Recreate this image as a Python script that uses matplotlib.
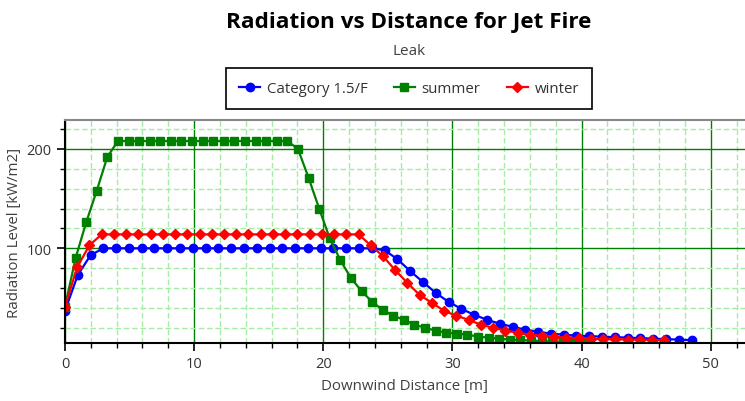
import matplotlib.pyplot as plt
from matplotlib.ticker import MultipleLocator, FixedLocator

# Category 1.5/F - blue circles
cat_x = [0.0, 0.99, 1.98, 2.97, 3.96, 4.95, 5.94, 6.93, 7.92, 8.91,
         9.9, 10.89, 11.88, 12.87, 13.86, 14.85, 15.84, 16.83, 17.82, 18.81,
         19.8, 20.79, 21.78, 22.77, 23.76, 24.75, 25.74, 26.73, 27.72, 28.71,
         29.7, 30.69, 31.68, 32.67, 33.66, 34.65, 35.64, 36.63, 37.62, 38.61,
         39.6, 40.59, 41.58, 42.57, 43.56, 44.55, 45.54, 46.53, 47.52, 48.51]
cat_y = [37, 73, 93, 100, 100, 100, 100, 100, 100, 100,
         100, 100, 100, 100, 100, 100, 100, 100, 100, 100,
         100, 100, 100, 100, 100, 98, 89, 77, 66, 55,
         46, 39, 33, 28, 24, 21, 18, 16, 14, 13,
         12, 11.5, 11, 10.5, 10, 9.5, 9, 8.5, 8, 7.5]

# summer - green squares
summer_x = [0.0, 0.82, 1.64, 2.46, 3.28, 4.1, 4.92, 5.74, 6.56, 7.38,
            8.2, 9.02, 9.84, 10.66, 11.48, 12.3, 13.12, 13.94, 14.76, 15.58,
            16.4, 17.22, 18.04, 18.86, 19.68, 20.5, 21.32, 22.14, 22.96, 23.78,
            24.6, 25.42, 26.24, 27.06, 27.88, 28.7, 29.52, 30.34, 31.16, 31.98,
            32.8, 33.62, 34.44, 35.26, 36.08, 36.9, 37.72, 38.54, 39.36, 40.18]
summer_y = [41, 90, 126, 158, 192, 208, 208, 208, 208, 208,
            208, 208, 208, 208, 208, 208, 208, 208, 208, 208,
            208, 208, 200, 171, 140, 110, 88, 70, 57, 46,
            38, 32, 28, 23, 20, 17, 15, 14, 13, 11,
            10, 9, 8, 7.5, 7, 6.5, 6, 6, 5.5, 5.5]

# winter - red diamonds
winter_x = [0.0, 0.947, 1.894, 2.841, 3.788, 4.735, 5.682, 6.629, 7.576, 8.523,
            9.47, 10.417, 11.364, 12.311, 13.258, 14.205, 15.152, 16.099, 17.046, 17.993,
            18.94, 19.887, 20.834, 21.781, 22.728, 23.675, 24.622, 25.569, 26.516, 27.463,
            28.41, 29.357, 30.304, 31.251, 32.198, 33.145, 34.092, 35.039, 35.986, 36.933,
            37.88, 38.827, 39.774, 40.721, 41.668, 42.615, 43.562, 44.509, 45.456, 46.403]
winter_y = [41, 81, 103, 114, 114, 114, 114, 114, 114, 114,
            114, 114, 114, 114, 114, 114, 114, 114, 114, 114,
            114, 114, 114, 114, 114, 103, 92, 78, 65, 53,
            45, 37, 32, 28, 23, 20, 17, 15, 13, 12,
            11, 10, 9.5, 9, 8.5, 8.5, 8, 8, 7.5, 7.5]

x_major = [0, 10, 20, 30, 40, 50]
y_major = [100, 200]


def plotRadiation():
    plt.rcParams['font.family'] = ['Open Sans', 'DejaVu Sans']
    fig = plt.figure(figsize=(7.45, 4.02), dpi=100)
    ax = fig.add_axes([0.0872, 0.1443, 0.9128, 0.5547])

    ax.plot(cat_x, cat_y, color='#0000FF', marker='o', markersize=6, linewidth=1.6, label='Category 1.5/F')
    ax.plot(summer_x, summer_y, color='#008000', marker='s', markersize=5.6, linewidth=1.6, label='summer')
    ax.plot(winter_x, winter_y, color='#FF0000', marker='D', markersize=5, linewidth=1.6, label='winter')

    ax.set_xlim(0, 52.65)
    ax.set_ylim(4.6, 229.2)
    ax.xaxis.set_major_locator(FixedLocator(x_major))
    ax.xaxis.set_minor_locator(MultipleLocator(2))
    ax.yaxis.set_major_locator(FixedLocator(y_major))
    ax.yaxis.set_minor_locator(MultipleLocator(20))

    #grid
    ax.grid(which='major', color='#008000', linestyle='-', linewidth=1)
    ax.grid(which='minor', color='#A6EBA6', linestyle=(0, (4, 2)), linewidth=1)
    ax.set_axisbelow(True)

    ax.tick_params(which='major', direction='out', length=6, width=1.2, color='black',
                   labelsize=10.5, labelcolor='#333333')
    ax.tick_params(which='minor', direction='out', length=3.5, width=1, color='black')

    ax.spines['left'].set_linewidth(1.5)
    ax.spines['bottom'].set_linewidth(1.5)
    ax.spines['top'].set_color('#888888')
    ax.spines['top'].set_linewidth(1.5)
    ax.spines['right'].set_visible(False)

    ax.set_xlabel('Downwind Distance [m]', fontsize=10.8, color='#404040', labelpad=5)
    ax.set_ylabel('Radiation Level [kW/m2]', fontsize=10.8, color='#404040', labelpad=3)

    fig.text(0.549, 0.945, 'Radiation vs Distance for Jet Fire', ha='center', va='center',
             fontsize=16.2, fontweight='bold', color='black')
    fig.text(0.549, 0.873, 'Leak', ha='center', va='center', fontsize=11, color='#404040')

    leg = fig.legend(loc='center', bbox_to_anchor=(0.549, 0.777), ncol=3, fontsize=10.8,
                     handlelength=1.4, handletextpad=0.45, columnspacing=1.75,
                     fancybox=False, framealpha=1, edgecolor='black', borderpad=0.85)
    leg.get_frame().set_linewidth(1.2)
    for t in leg.get_texts():
        t.set_color('#333333')

    fig.savefig('out.png', dpi=100)


if __name__ == "__main__":
    plotRadiation()
